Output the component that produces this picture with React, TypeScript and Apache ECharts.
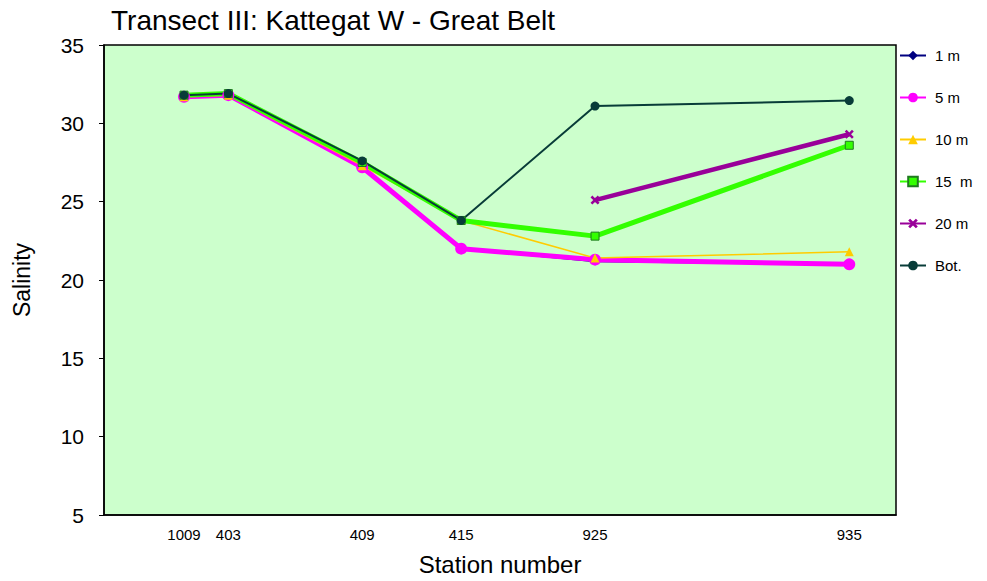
import React, { useEffect, useRef } from "react";
import * as echarts from "echarts";

const stations = ["1009", "403", "409", "415", "925", "935"];
// along-transect distance (arbitrary units, 0..100)
const transectDistance = [10.1, 15.7, 32.6, 45.1, 62.0, 94.1];
const yTicks = [5, 10, 15, 20, 25, 30, 35];

const s1m = [31.7, 31.8, 27.2, 22.0, 21.2, 21.0];
const s5m = [31.7, 31.8, 27.2, 22.0, 21.3, 21.0];
const s10m = [31.7, 31.8, 27.3, 23.8, 21.4, 21.8];
const s15m = [31.8, 31.9, 27.5, 23.8, 22.8, 28.6];
const s20m = [null, null, null, null, 25.1, 29.3];
const sBot = [31.8, 31.9, 27.6, 23.8, 31.1, 31.45];

const FONT = "Liberation Sans, Arial, Helvetica, sans-serif";

const xShape =
  "path://M2,0 L5,3 L8,0 L10,2 L7,5 L10,8 L8,10 L5,7 L2,10 L0,8 L3,5 L0,2 Z";

function pairs(vals: (number | null)[]) {
  return vals.map((v, i) => [transectDistance[i], v]);
}

export default function App() {
  const ref = useRef<HTMLDivElement>(null);
  useEffect(() => {
    if (!ref.current) return;
    const chart = echarts.init(ref.current, undefined, { renderer: "svg" });
    const mk = (
      name: string,
      vals: (number | null)[],
      color: string,
      width: number,
      symbol: string,
      size: number,
      border?: string
    ) => ({
      name,
      type: "line",
      data: pairs(vals),
      connectNulls: false,
      symbol,
      symbolSize: size,
      showSymbol: true,
      lineStyle: { color, width },
      itemStyle: border
        ? { color, borderColor: border, borderWidth: 1 }
        : { color, borderWidth: 0 },
      emphasis: { disabled: true },
    });
    chart.setOption({
      animation: false,
      backgroundColor: "#ffffff",
      title: {
        text: "Transect III: Kattegat W - Great Belt",
        left: 111,
        top: 6,
        padding: 0,
        textStyle: {
          fontFamily: FONT,
          fontSize: 28,
          fontWeight: "normal",
          color: "#000",
        },
      },
      grid: {
        left: 104,
        right: 91,
        top: 45,
        bottom: 63,
        show: true,
        backgroundColor: "#CCFFCC",
        borderColor: "#000",
        borderWidth: 1.5,
      },
      legend: {
        orient: "vertical",
        left: 899,
        top: 48,
        padding: 0,
        itemWidth: 26,
        itemHeight: 12,
        itemGap: 27,
        textStyle: { fontFamily: FONT, fontSize: 15, color: "#000", padding: [0, 0, 0, 4] },
        data: ["1 m", "5 m", "10 m", "15  m", "20 m", "Bot."],
      },
      xAxis: {
        type: "value",
        min: 0,
        max: 100,
        name: "Station number",
        nameLocation: "middle",
        nameGap: 37,
        nameTextStyle: { fontFamily: FONT, fontSize: 24, color: "#000" },
        axisLine: { show: true, lineStyle: { color: "#000", width: 1.5 } },
        axisTick: { show: false },
        splitLine: { show: false },
        axisLabel: {
          customValues: transectDistance,
          formatter: (v: number) => {
            const i = transectDistance.indexOf(v);
            return i >= 0 ? stations[i] : "";
          },
          fontFamily: FONT,
          fontSize: 15,
          color: "#000",
          margin: 12,
        },
      },
      yAxis: {
        type: "value",
        min: 5,
        max: 35,
        interval: 5,
        name: "Salinity",
        nameLocation: "middle",
        nameGap: 71,
        nameTextStyle: { fontFamily: FONT, fontSize: 23, color: "#000" },
        axisLine: { show: true, lineStyle: { color: "#000", width: 1.5 } },
        axisTick: { show: true, inside: false, length: 5, lineStyle: { color: "#000" } },
        splitLine: { show: false },
        axisLabel: {
          fontFamily: FONT,
          fontSize: 21,
          color: "#000",
          margin: 20,
          formatter: (v: number) => (yTicks.includes(v) ? String(v) : ""),
        },
      },
      series: [
        mk("1 m", s1m, "#000080", 2, "diamond", 8),
        mk("5 m", s5m, "#FF00FF", 5, "circle", 12),
        mk("10 m", s10m, "#FFCC00", 1.5, "triangle", 9),
        mk("15  m", s15m, "#33FF00", 5, "rect", 8, "#1f7a1f"),
        mk("20 m", s20m, "#990099", 4.5, xShape, 9),
        mk("Bot.", sBot, "#083C38", 2, "circle", 9),
      ],
    });
    return () => chart.dispose();
  }, []);
  return (
    <div
      ref={ref}
      style={{ position: "absolute", left: 0, top: 0, width: 987, height: 581 }}
    />
  );
}
